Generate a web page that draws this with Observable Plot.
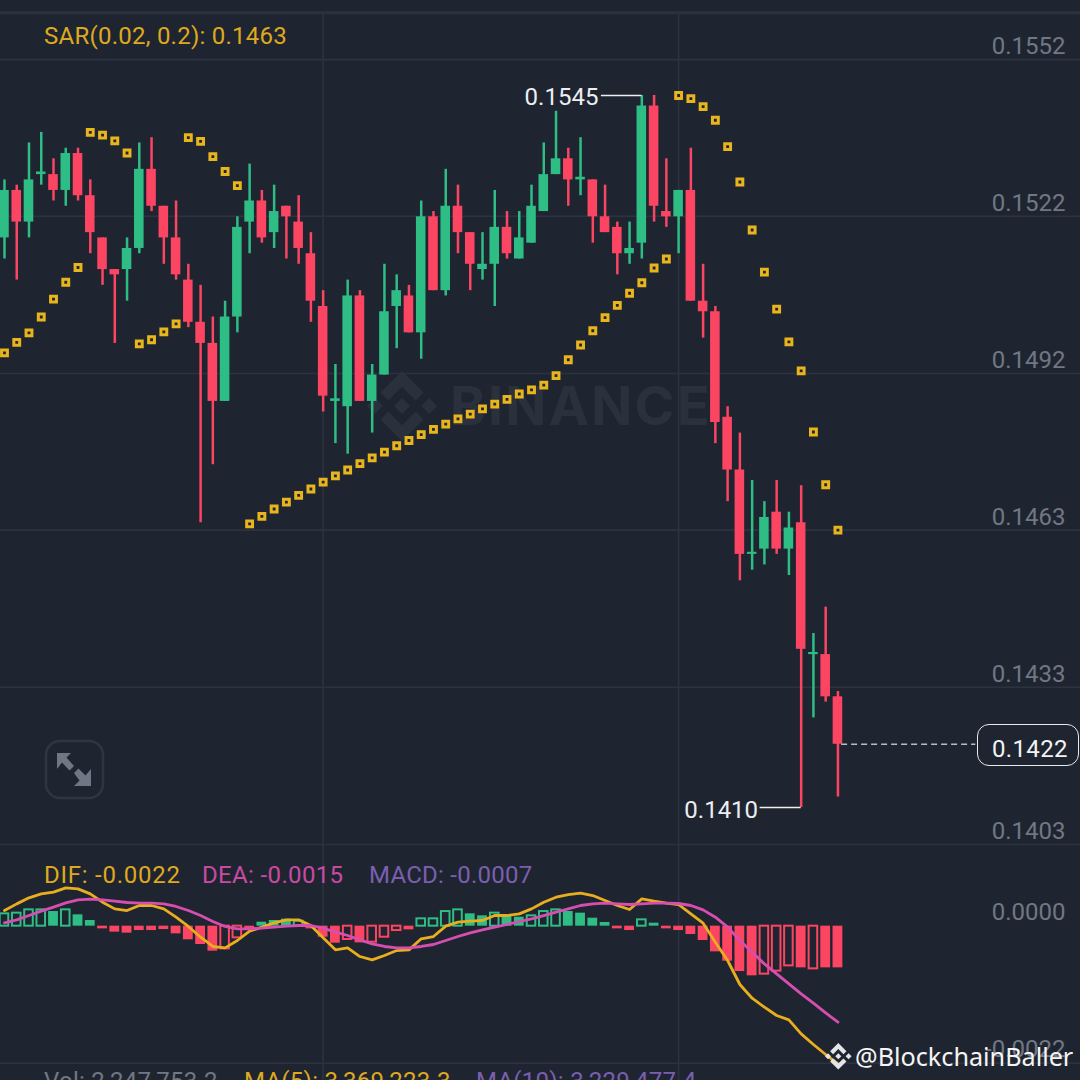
<!DOCTYPE html>
<html>
<head>
<meta charset="utf-8">
<script src="https://cdn.jsdelivr.net/npm/d3@7"></script>
<script src="https://cdn.jsdelivr.net/npm/@observablehq/plot@0.6"></script>
<style>
html,body{margin:0;padding:0;background:#1f2530}
#stage{position:relative;width:1080px;height:1080px;overflow:hidden;background:#1f2530;font-family:Roboto,sans-serif}
#stage svg{position:absolute;background:transparent;max-width:none}
.t{position:absolute;white-space:pre;font-size:24px;line-height:28px;letter-spacing:.25px}
</style>
</head>
<body>
<div id="stage"></div>
<script>
const open = [.1518,.1527,.1521,.1530,.1530,.1527,.1534,.1526,.1518,.1512,.1512,.1516,.1531,.1524,.1518,.1510,.1502,.1498,.1487,.1503,.1521,.1525,.1519,.1524,.1521,.1515,.1505,.1487,.1486,.1507,.1487,.1492,.1505,.1507,.1500,.1522,.1508,.1524,.1519,.1512,.1513,.1520,.1514,.1517,.1523,.1530,.1533,.1529,.1529,.1522,.1520,.1515,.1517,.1543,.1523,.1522,.1527,.1506,.1504,.1484,.1474,.1458,.1459,.1466,.1459,.1464,.1439,.1439,.1431];
const close = [.1527,.1521,.1529,.15305,.1527,.1534,.1526,.1519,.1512,.1511,.1516,.1531,.1524,.1518,.1511,.1502,.1498,.1487,.1503,.1520,.1525,.1518,.1523,.1522,.1516,.1506,.1488,.14875,.1507,.1487,.1492,.1504,.1508,.1500,.1522,.1508,.1524,.1519,.1513,.1513,.1520,.1515,.1518,.1524,.1530,.1533,.1529,.15295,.1522,.1519,.1515,.1516,.1543,.1524,.1522,.1527,.1506,.1504,.1483,.1474,.1458,.14584,.1465,.1459,.1463,.1440,.14394,.1431,.1422];
const high = [.1529,.1528,.1536,.1538,.1533,.1535,.1535,.1529,.1518,.1512,.1518,.1536,.1537,.1524,.1525,.1513,.1509,.1503,.1506,.1522,.1532,.1527,.1528,.1524,.1526,.1519,.1508,.1494,.1510,.1508,.1494,.1513,.1511,.1509,.1525,.1523,.1531,.1528,.1519,.1519,.1527,.1523,.1523,.1528,.1536,.1542,.1535,.1537,.1529,.1528,.1521,.1521,.1545,.1545,.1533,.1527,.1535,.1513,.1505,.1486,.1481,.1472,.1468,.1472,.1466,.1471,.1443,.1448,.1432];
const low = [.1514,.1510,.1518,.1528,.1525,.1524,.1525,.1515,.1509,.1498,.1506,.1515,.1523,.1513,.1510,.1501,.1464,.1475,.1487,.1500,.1515,.1517,.1516,.1514,.1513,.1502,.1485,.1479,.1477,.1487,.1481,.1492,.1497,.1500,.1495,.1508,.1507,.1515,.1508,.1510,.1505,.1514,.1514,.1517,.1523,.1530,.1524,.1526,.1517,.1519,.1511,.1513,.1514,.1521,.1520,.1515,.1506,.1499,.1479,.1468,.1453,.1455,.1456,.1458,.1454,.1410,.1427,.1430,.1412];
const sar = [.14962,.14982,.15000,.15030,.15064,.15096,.15124,.15380,.15375,.15364,.15341,.14979,.14987,.15002,.15017,.15370,.15363,.15334,.15306,.15279,.14638,.14652,.14666,.14679,.14692,.14704,.14717,.14729,.14740,.14752,.14763,.14774,.14786,.14796,.14807,.14817,.14827,.14837,.14846,.14856,.14865,.14874,.14884,.14892,.14901,.14919,.14949,.14977,.15004,.15029,.15052,.15075,.15095,.15123,.15140,.15450,.15444,.15429,.15403,.15353,.15286,.15195,.15115,.15045,.14983,.14928,.14812,.14712,.14626];

const dif = [.000251,.000358,.000455,.000519,.000546,.000615,.000599,.000519,.000385,.000278,.000251,.000332,.000332,.000278,.000144,-.000005,-.000177,-.000326,-.000348,-.000230,-.000080,-.000016,.000054,.000102,.000102,.000011,-.000187,-.000380,-.000348,-.000487,-.000540,-.000471,-.000391,-.000380,-.000203,-.000166,0,.000064,.000080,.000091,.000171,.000171,.000198,.000278,.000385,.000465,.000508,.000530,.000492,.000412,.000332,.000268,.000439,.000401,.000369,.000348,.000198,.000048,-.000257,-.000551,-.000936,-.001156,-.001300,-.001434,-.001503,-.001728,-.001899,-.002060,-.002210];
const dea = [.000054,.000102,.000171,.000241,.000305,.000375,.000423,.000433,.000423,.000401,.000380,.000369,.000369,.000358,.000316,.000251,.000171,.000075,-.000005,-.000043,-.000043,-.000032,-.000016,0,.000011,.000011,-.000032,-.000096,-.000150,-.000219,-.000284,-.000326,-.000348,-.000348,-.000326,-.000294,-.000230,-.000166,-.000107,-.000059,-.000016,.000027,.000075,.000118,.000171,.000225,.000278,.000332,.000358,.000369,.000358,.000348,.000358,.000369,.000369,.000364,.000332,.000262,.000144,-.000016,-.000230,-.000417,-.000605,-.000765,-.000926,-.001086,-.001236,-.001391,-.001541];
const macd = [.000198,.000209,.000262,.000262,.000235,.000262,.000182,.000091,-.000043,-.000096,-.000112,-.000070,-.000070,-.000054,-.000123,-.000219,-.000294,-.000401,-.000364,-.000187,-.000070,.000064,.000091,.000112,.000080,-.000043,-.000177,-.000273,-.000214,-.000268,-.000257,-.000177,-.000070,-.000059,.000118,.000118,.000235,.000262,.000198,.000166,.000209,.000171,.000144,.000166,.000235,.000262,.000235,.000209,.000128,.000059,-.000043,-.000070,.000102,.000048,-.000043,-.000070,-.000134,-.000230,-.000412,-.000562,-.000728,-.000797,-.000770,-.000722,-.000637,-.000669,-.000685,-.000669,-.000669];
const hollowBars = [0,1,2,3,5,18,19,24,28,30,31,32,34,35,36,37,40,43,44,45,52,62,63,64,66];

const priceTicks = [.15518,.15221,.14923,.14626,.14328,.14030];
const macdTicks = [0,-.0022];
const monthLines = [26,55];
const paneTop = [.15607];
const lastPrice = .1422;
const callouts = [{i:52,price:.1545,from:48.7,dx:-3,dy:2},{i:65,price:.1410,from:61.65,dx:-2,dy:3}];

const C = {bg:"#1f2530",grid:"#2c3240",axis:"#717784",up:"#2ebd85",down:"#fb4562",gold:"#e9b51c",
           difLine:"#e8ae1e",deaLine:"#d64fb0",white:"#eceef0"};
const font = "Roboto, sans-serif";
const fmt = d => d.toFixed(4);
const idx = d3.range(open.length);
const xScale = {type:"linear",domain:[-0.325,87.79],range:[0,1080]};
const isUp = i => close[i] >= open[i];
const stage = document.getElementById("stage");

const pricePlot = Plot.plot({
  width:1080,height:850,marginTop:0,marginRight:0,marginBottom:0,marginLeft:0,
  style:{background:"transparent",overflow:"visible"},
  x:{...xScale,axis:null},
  y:{type:"linear",domain:[.156301,.1403],range:[0,844],axis:null},
  marks:[
    Plot.ruleY(priceTicks,{stroke:C.grid,strokeWidth:1.6}),
    Plot.ruleY(paneTop,{stroke:C.grid,strokeWidth:3}),
    Plot.ruleX(monthLines,{y1:paneTop[0],y2:.1403,stroke:C.grid,strokeWidth:1.6}),
    Plot.axisY(priceTicks,{anchor:"right",tickSize:0,tickFormat:fmt,label:null,textAnchor:"end",tickPadding:0,dx:-15,dy:-13,fill:C.axis,fontSize:24,fontFamily:font}),
    Plot.ruleX(idx,{x:i=>i,y1:i=>high[i],y2:i=>low[i],stroke:i=>isUp(i)?C.up:C.down,strokeWidth:2.5}),
    Plot.rect(idx,{x1:i=>i-0.39,x2:i=>i+0.39,y1:i=>open[i],y2:i=>close[i],fill:i=>isUp(i)?C.up:C.down}),
    Plot.dot(idx,{x:i=>i,y:i=>sar[i],symbol:"square",r:3.3,fill:C.bg,stroke:C.gold,strokeWidth:3}),
    Plot.ruleY(callouts,{x1:"from",x2:"i",y:"price",stroke:C.white,strokeWidth:1.5}),
    Plot.text([callouts[0]],{x:"from",y:"price",text:d=>fmt(d.price),textAnchor:"end",dx:callouts[0].dx,dy:callouts[0].dy,fill:C.white,fontSize:24,fontFamily:font}),
    Plot.text([callouts[1]],{x:"from",y:"price",text:d=>fmt(d.price),textAnchor:"end",dx:callouts[1].dx,dy:callouts[1].dy,fill:C.white,fontSize:24,fontFamily:font}),
    Plot.ruleY([lastPrice],{x1:68.3,x2:79.25,stroke:"#b9bdc4",strokeWidth:1.5,strokeDasharray:"6 4"})
  ]
});
pricePlot.style.left="0";pricePlot.style.top="0";pricePlot.style.zIndex=1;

const macdPlot = Plot.plot({
  width:1080,height:236,marginTop:0,marginRight:0,marginBottom:0,marginLeft:0,
  style:{background:"transparent"},
  x:{...xScale,axis:null},
  y:{type:"linear",domain:[.001311,-.002477],range:[0,236],axis:null},
  marks:[
    Plot.ruleY([macdTicks[1]],{stroke:C.grid,strokeWidth:1.6}),
    Plot.ruleX(monthLines,{stroke:C.grid,strokeWidth:1.6}),
    Plot.axisY(macdTicks,{anchor:"right",tickSize:0,tickFormat:fmt,label:null,textAnchor:"end",tickPadding:0,dx:-15,dy:-14,fill:C.axis,fontSize:24,fontFamily:font}),
    Plot.rect(idx.filter(i=>!hollowBars.includes(i)),{x1:i=>i-0.4,x2:i=>i+0.4,y1:0,y2:i=>macd[i],fill:i=>macd[i]>=0?C.up:C.down}),
    Plot.rect(hollowBars,{x1:i=>i-0.35,x2:i=>i+0.35,y1:0,y2:i=>macd[i],fill:"none",stroke:i=>macd[i]>=0?C.up:C.down,strokeWidth:2}),
    Plot.line(idx,{x:i=>i,y:i=>dif[i],stroke:C.difLine,strokeWidth:2.8,curve:"linear"}),
    Plot.line(idx,{x:i=>i,y:i=>dea[i],stroke:C.deaLine,strokeWidth:2.8,curve:"linear"})
  ]
});
macdPlot.style.left="0";macdPlot.style.top="844px";macdPlot.style.zIndex=1;

const logoPath = "m38.73 53.2 24.59-24.58 24.6 24.6 14.3-14.31L63.32 0 24.42 38.9l14.31 14.3zM0 63.31l14.3-14.31 14.31 14.31-14.31 14.3zM38.73 73.41l24.59 24.59 24.6-24.6 14.31 14.29-38.9 38.91-38.91-38.88v-.03zM98 63.31l14.3-14.31 14.31 14.3-14.31 14.32zM77.83 63.3 63.32 48.78 52.59 59.51l-1.24 1.23-2.54 2.54 14.51 14.5 14.51-14.47z";

stage.innerHTML = `
<svg style="left:367px;top:371px;z-index:0" width="70" height="70" viewBox="0 0 126.61 126.61"><path d="${logoPath}" fill="#2a303c"/></svg>
<div class="t" style="left:450px;top:375px;z-index:0;font-family:Inter,sans-serif;font-weight:700;font-size:54px;line-height:62px;color:#2a303c;letter-spacing:2.2px">BINANCE</div>
<div class="t" style="left:44px;top:22px;color:#dfa91f;z-index:2">SAR(0.02, 0.2): 0.1463</div>
<div class="t" style="left:44px;top:861px;color:#dfa91f;z-index:2;letter-spacing:.75px">DIF: -0.0022</div>
<div class="t" style="left:202px;top:861px;color:#c94aa3;z-index:2;letter-spacing:.35px">DEA: -0.0015</div>
<div class="t" style="left:369px;top:861px;color:#7a5fb0;z-index:2">MACD: -0.0007</div>
<div class="t" style="left:44px;top:1067px;color:#717784;z-index:2">Vol: 2,247,753.2</div>
<div class="t" style="left:244px;top:1067px;color:#dfa91f;z-index:2">MA(5): 3,369,223.3</div>
<div class="t" style="left:476px;top:1067px;color:#7a5fb0;z-index:2">MA(10): 3,229,477.4</div>
<div style="position:absolute;left:977px;top:724px;width:100px;height:40px;border:1.5px solid #e6e8ea;border-radius:12px;z-index:2"></div>
<div class="t" style="left:992px;top:735px;color:#f2f3f4;z-index:2;letter-spacing:.35px">0.1422</div>
<svg style="left:0;top:0;z-index:2;pointer-events:none" width="1080" height="1080">
  <rect x="46" y="741" width="57" height="57" rx="14" fill="none" stroke="#2f3542" stroke-width="2.5"/>
  <polygon points="57,753 71,753 66.5,757.5 74,766 69.5,770.5 62,762.5 57,769" fill="#6f7785"/>
  <polygon points="91,786 74,786 79.5,780.5 74,773 78.5,768.5 85.5,775.5 91,769" fill="#6f7785"/>
  <g transform="translate(825,1043) scale(0.21)"><path d="${logoPath}" fill="#e4e5e7"/></g>
</svg>
<div class="t" style="left:855px;top:1040px;z-index:3;color:#f5f5f5;font-family:'Noto Sans',sans-serif;font-size:25.2px;line-height:32px;letter-spacing:0">@BlockchainBaller</div>
`;
stage.appendChild(pricePlot);
stage.appendChild(macdPlot);
</script>
</body>
</html>
